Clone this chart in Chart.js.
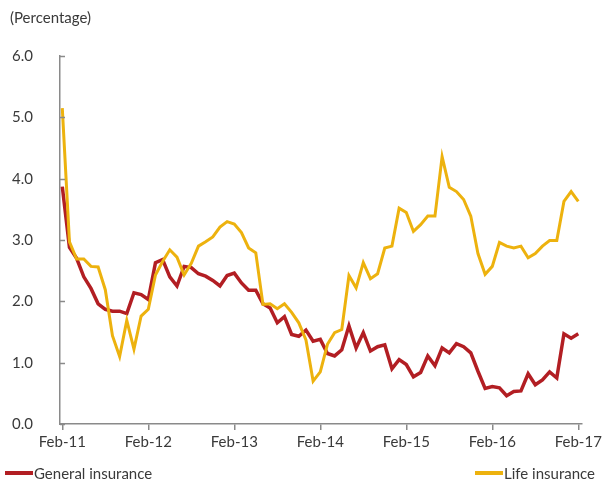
<!DOCTYPE html>
<html>
<head>
<meta charset="utf-8">
<script src="https://cdn.jsdelivr.net/npm/chart.js@4.4.1/dist/chart.umd.min.js"></script>
<style>
  body { margin: 0; background: #fff; font-family: Lato, "Open Sans", sans-serif; color: #3a3a3a; }
  #wrap { position: relative; width: 605px; height: 480px; }
  #unit { position: absolute; left: 10px; top: 8px; font-size: 15px; }
  .key { position: absolute; top: 463px; font-size: 15px; line-height: 20px; display: flex; align-items: center; white-space: nowrap; }
  .key span { display: inline-block; width: 28px; height: 4px; margin-right: 1px; }
</style>
</head>
<body>
<div id="wrap">
  <canvas id="insuranceChart" width="605" height="480"></canvas>
  <div id="unit">(Percentage)</div>
  <div class="key" style="left:5px"><span style="background:#B21E23"></span>General insurance</div>
  <div class="key" style="left:475px"><span style="background:#EDB20E"></span>Life insurance</div>
</div>
<script>
// monthly, Feb-11 .. Feb-17
const monthNames = ['Feb', 'Mar', 'Apr', 'May', 'Jun', 'Jul', 'Aug', 'Sep', 'Oct', 'Nov', 'Dec', 'Jan'];
const tickPositions = [0, 12, 24, 36, 48, 60, 72];
const yTicks = [0, 1, 2, 3, 4, 5, 6];

const generalInsurance = [
  3.87, 2.88, 2.70, 2.40, 2.21, 1.96, 1.87, 1.84, 1.84, 1.80, 2.14, 2.11,
  2.03, 2.63, 2.68, 2.40, 2.25, 2.57, 2.55, 2.45, 2.41, 2.34, 2.25, 2.42,
  2.46, 2.30, 2.18, 2.18, 1.96, 1.89, 1.65, 1.75, 1.46, 1.43, 1.53, 1.35,
  1.38, 1.15, 1.11, 1.21, 1.60, 1.24, 1.49, 1.19, 1.26, 1.29, 0.90, 1.05,
  0.97, 0.77, 0.84, 1.11, 0.95, 1.24, 1.16, 1.31, 1.26, 1.16, 0.86, 0.58,
  0.61, 0.59, 0.46, 0.53, 0.54, 0.82, 0.64, 0.72, 0.85, 0.75, 1.47, 1.40,
  1.47
];

const lifeInsurance = [
  5.15, 2.97, 2.69, 2.69, 2.57, 2.56, 2.19, 1.44, 1.10, 1.69, 1.22, 1.76,
  1.87, 2.43, 2.65, 2.84, 2.72, 2.43, 2.62, 2.90, 2.97, 3.05, 3.21, 3.30,
  3.26, 3.12, 2.87, 2.79, 1.95, 1.96, 1.88, 1.96, 1.82, 1.65, 1.37, 0.70,
  0.85, 1.30, 1.49, 1.54, 2.42, 2.22, 2.63, 2.37, 2.45, 2.87, 2.90, 3.52,
  3.45, 3.14, 3.25, 3.39, 3.39, 4.36, 3.86, 3.79, 3.66, 3.39, 2.78, 2.44,
  2.57, 2.96, 2.90, 2.87, 2.90, 2.71, 2.78, 2.90, 2.99, 2.99, 3.63, 3.79,
  3.63
];

const labels = generalInsurance.map((_, i) => {
  const yr = 11 + Math.floor((i + 1) / 12);
  return monthNames[i % 12] + '-' + yr;
});

const axisGrey = '#8a8a8a';
const textColor = '#3a3a3a';
const tickFont = { family: 'Lato', size: 15 };

// y axis tick marks point into the plot
const inwardTicks = {
  id: 'inwardTicks',
  afterDraw(chart) {
    const y = chart.scales.y;
    const c = chart.ctx;
    c.save();
    c.strokeStyle = axisGrey;
    c.lineWidth = 1.5;
    y.ticks.forEach(t => {
      const py = Math.round(y.getPixelForValue(t.value)) + 0.5;
      c.beginPath();
      c.moveTo(chart.chartArea.left, py);
      c.lineTo(chart.chartArea.left + 5, py);
      c.stroke();
    });
    c.restore();
  }
};

new Chart(document.getElementById('insuranceChart'), {
  type: 'line',
  data: {
    datasets: [
      {
        label: 'General insurance',
        data: generalInsurance.map((v, i) => ({ x: i, y: v })),
        borderColor: '#B21E23',
        borderWidth: 3.5,
        pointRadius: 0,
        tension: 0,
        order: 1
      },
      {
        label: 'Life insurance',
        data: lifeInsurance.map((v, i) => ({ x: i, y: v })),
        borderColor: '#EDB20E',
        borderWidth: 3,
        pointRadius: 0,
        tension: 0,
        order: 0
      }
    ]
  },
  options: {
    responsive: false,
    animation: false,
    layout: { padding: { left: 10, top: 56, right: 23, bottom: 32 } },
    plugins: { legend: { display: false }, tooltip: { enabled: false } },
    scales: {
      x: {
        type: 'linear',
        min: -0.32,
        max: 72.5,
        afterBuildTicks: s => { s.ticks = tickPositions.map(v => ({ value: v })); },
        afterFit: s => { s.height = 24; },
        ticks: {
          callback: v => labels[v],
          font: tickFont,
          color: textColor,
          padding: 3,
          maxRotation: 0,
          autoSkip: false
        },
        grid: { drawOnChartArea: false, drawTicks: true, tickLength: 6, color: axisGrey, lineWidth: 1.5 },
        border: { color: axisGrey, width: 1.5 }
      },
      y: {
        min: 0,
        max: 6,
        afterBuildTicks: s => { s.ticks = yTicks.map(v => ({ value: v })); },
        afterFit: s => { s.width = 50; },
        ticks: {
          callback: v => v.toFixed(1),
          font: tickFont,
          color: textColor,
          padding: 27
        },
        grid: { display: false, drawTicks: false },
        border: { color: axisGrey, width: 1.5 }
      }
    }
  },
  plugins: [inwardTicks]
});
</script>
</body>
</html>
